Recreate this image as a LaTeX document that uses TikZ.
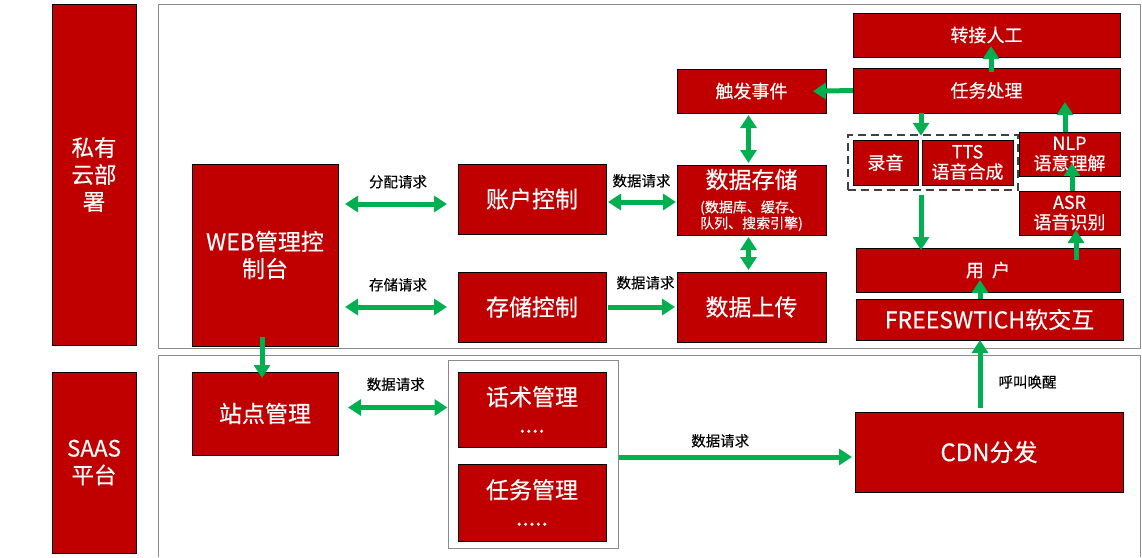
\documentclass[tikz,border=0pt]{standalone}
\usepackage{fontspec}
\setmainfont[FakeBold=0.3]{Noto Sans CJK SC}
\usepackage{tikz}
\usetikzlibrary{arrows.meta,positioning,fit,calc}
\definecolor{boxred}{HTML}{C00000}
\definecolor{flowgreen}{HTML}{00B050}
\definecolor{panelgray}{HTML}{8C8C8C}

\begin{document}
\begin{tikzpicture}[x=1pt, y=-1pt,
    block/.style={rectangle, draw=black, fill=boxred, text=white, inner sep=0pt, outer sep=0pt, align=center, line width=0.8pt},
    side/.style={font=\fontsize{22.5}{27}\selectfont},
    big/.style={font=\fontsize{23}{27}\selectfont},
    small/.style={font=\fontsize{18}{20}\selectfont},
    lbl/.style={font=\fontsize{14.5}{16}\selectfont, text=black, inner sep=0pt},
    flow/.style={draw=flowgreen, line width=5pt, -{Triangle[width=16pt,length=13pt]}},
    dflow/.style={draw=flowgreen, line width=5pt, {Triangle[width=16pt,length=13pt]}-{Triangle[width=16pt,length=13pt]}},
    group/.style={draw=black!75, line width=2.5pt, dash pattern=on 8pt off 5pt, inner sep=5pt}
]
\useasboundingbox (0,0) rectangle (1142,557);

% Panels
\draw[panelgray, line width=1pt] (158,4) rectangle (1140,348);
\draw[panelgray, line width=1pt] (158,557) -- (158,355) -- (1140,355) -- (1140,557);

% Side labels
\node[block, side, minimum width=84pt, minimum height=341pt] (private_lbl) at (94,174.5) {私有\\云部\\署};
\node[block, side, minimum width=84pt, minimum height=181pt] (saas_lbl) at (94,462.5) {SAAS\\平台};

% Private cloud
\node[block, big, minimum width=146pt, minimum height=182pt] (web_console) at (265,255) {WEB管理控\\制台};
\node[block, big, minimum width=148pt, minimum height=70pt] (account_ctrl) at (532,199) {账户控制};
\node[block, font=\fontsize{14}{16}\selectfont, text width=149pt, minimum height=70pt] (data_store) at (751.5,200)
    {{\fontsize{23}{27}\selectfont 数据存储}\\[8pt](数据库、缓存、\\队列、搜索引擎)};
\node[block, big, minimum width=148pt, minimum height=70pt] (storage_ctrl) at (532,307) {存储控制};
\node[block, big, minimum width=149pt, minimum height=70pt] (data_upload) at (751.5,307) {数据上传};
\node[block, small, minimum width=149pt, minimum height=44pt] (trigger_evt) at (751.5,91) {触发事件};

\node[block, small, minimum width=267pt, minimum height=44pt] (transfer_human) at (986.5,35) {转接人工};
\node[block, small, minimum width=267pt, minimum height=45pt] (task_proc) at (986.5,90.5) {任务处理};
\node[block, small, minimum width=65pt, minimum height=45pt] (recording) at (885.5,162.5) {录音};
\node[block, small, minimum width=91pt, minimum height=45pt] (tts) at (967.5,162.5) {TTS\\语音合成};
\node[group, fit=(recording)(tts)] (tts_group) {};
\node[block, small, minimum width=101pt, minimum height=44pt] (nlp) at (1069.5,154) {NLP\\语意理解};
\node[block, small, minimum width=101pt, minimum height=44pt] (asr) at (1069.5,213) {ASR\\语音识别};
\node[block, small, minimum width=264pt, minimum height=44pt] (user) at (988,270) {用\ \ 户};
\node[block, big, minimum width=267pt, minimum height=41pt] (freeswitch) at (989.5,319.5) {FREESWTICH软交互};

% SAAS platform
\node[draw=panelgray, line width=1pt, minimum width=170pt, minimum height=188pt, inner sep=0pt] (mgmt_group) at (533,454) {};
\node[block, big, minimum width=146pt, minimum height=83pt] (site_mgmt) at (265,413.5) {站点管理};
\node[block, big, minimum width=148pt, minimum height=75pt] (script_mgmt) at (532,409.5) {话术管理\\....};
\node[block, big, minimum width=148pt, minimum height=77pt] (task_mgmt) at (532,502.5) {任务管理\\.....};
\node[block, font=\fontsize{24}{28}\selectfont, minimum width=268pt, minimum height=80pt] (cdn) at (989,452) {CDN分发};

% Arrows
\draw[dflow, shorten <=7pt, shorten >=11pt] ($(web_console.east |- account_ctrl.west)+(0,5)$) -- ($(account_ctrl.west)+(0,5)$)
    node[midway, above=13pt, lbl] {分配请求};
\draw[dflow, shorten <=7pt, shorten >=11pt] (web_console.east |- storage_ctrl.west) -- (storage_ctrl.west)
    node[midway, above=13pt, lbl] {存储请求};
\draw[dflow, shorten <=2pt, shorten >=1pt] ($(account_ctrl.east)+(0,3)$) -- ($(data_store.west |- account_ctrl.east)+(0,3)$)
    node[midway, above=12pt, lbl] {数据请求};
\draw[flow, shorten <=2pt, shorten >=2pt] (storage_ctrl.east) -- (data_upload.west)
    node[midway, above=15pt, lbl, xshift=4pt] {数据请求};
\draw[dflow, shorten <=2pt, shorten >=2pt] ([xshift=-3pt]trigger_evt.south) -- ([xshift=-3pt]data_store.north);
\draw[dflow, shorten <=2pt, shorten >=2pt] ([xshift=-3pt]data_store.south) -- ([xshift=-3pt]data_upload.north);
\draw[flow, shorten >=-13pt] (task_proc.west) -- (trigger_evt.east);
\draw[flow, shorten <=-4pt, shorten >=-11pt] ([xshift=4.5pt]task_proc.north) -- ([xshift=4.5pt]transfer_human.south);
\draw[flow, shorten >=-2pt] ([xshift=3pt]recording.east |- task_proc.south) -- ([xshift=3pt]recording.east |- tts_group.north);
\draw[flow, shorten <=4pt, shorten >=-2pt] ([xshift=3pt]recording.east |- tts_group.south) -- ([xshift=3pt]recording.east |- user.north);
\draw[flow, shorten >=-13pt] ([xshift=2.5pt]asr.north) -- ([xshift=2.5pt]nlp.south);
\draw[flow, shorten >=-11pt] ([xshift=-4.5pt]nlp.north) -- ([xshift=-4.5pt]nlp.north |- task_proc.south);
\draw[flow, shorten <=-12pt, shorten >=-5pt] ([xshift=6.5pt]asr.south |- user.north) -- ([xshift=6.5pt]asr.south);
\draw[flow, shorten >=-12pt] ([xshift=-9.5pt]freeswitch.north) -- ([xshift=-9.5pt]freeswitch.north |- user.south);
\draw[flow, shorten <=4pt] ([xshift=-9pt]cdn.north) -- ([xshift=-9pt]cdn.north |- freeswitch.south)
    node[midway, right=16pt, lbl, yshift=-6pt] {呼叫唤醒};
\draw[flow, shorten <=-9pt, shorten >=-6pt] ([xshift=-3pt]web_console.south) -- ([xshift=-3pt]site_mgmt.north);
\draw[dflow, shorten <=10pt] ($(site_mgmt.east)+(0,-6)$) -- ($(mgmt_group.west |- site_mgmt.east)+(0,-6)$)
    node[midway, above=14pt, lbl, xshift=3pt] {数据请求};
\draw[flow, shorten >=3pt] ($(mgmt_group.east)+(0,3)$) -- ($(cdn.west |- mgmt_group.east)+(0,3)$)
    node[pos=0.43, above=7pt, lbl] {数据请求};

\end{tikzpicture}
\end{document}
